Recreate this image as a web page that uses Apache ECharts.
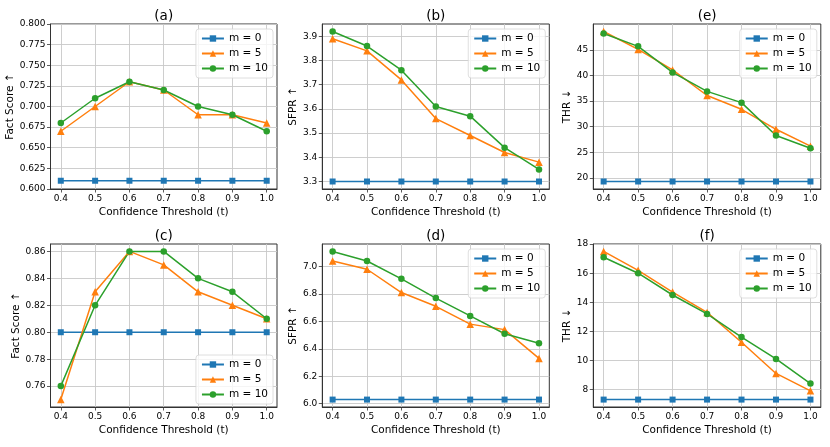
<!DOCTYPE html>
<html>
<head>
<meta charset="utf-8">
<script src="https://cdn.jsdelivr.net/npm/echarts@6.0.0/dist/echarts.min.js"></script>
<style>
  body { margin: 0; background: #fff; }
  #main { width: 830px; height: 447px; }
</style>
</head>
<body>
<div id="main"></div>
<script>
// x axis: confidence threshold
var thresholds = [0.4, 0.5, 0.6, 0.7, 0.8, 0.9, 1.0];
var seriesNames = ['m = 0', 'm = 5', 'm = 10'];

// (a) Fact Score
var aM0 = [0.61, 0.61, 0.61, 0.61, 0.61, 0.61, 0.61];
var aM5 = [0.67, 0.70, 0.73, 0.72, 0.69, 0.69, 0.68];
var aM10 = [0.68, 0.71, 0.73, 0.72, 0.70, 0.69, 0.67];
var aTicks = [0.600, 0.625, 0.650, 0.675, 0.700, 0.725, 0.750, 0.775, 0.800];

// (b) SFPR
var bM0 = [3.30, 3.30, 3.30, 3.30, 3.30, 3.30, 3.30];
var bM5 = [3.89, 3.84, 3.72, 3.56, 3.49, 3.42, 3.38];
var bM10 = [3.92, 3.86, 3.76, 3.61, 3.57, 3.44, 3.35];
var bTicks = [3.3, 3.4, 3.5, 3.6, 3.7, 3.8, 3.9];

// (e) THR
var eM0 = [19.3, 19.3, 19.3, 19.3, 19.3, 19.3, 19.3];
var eM5 = [48.6, 45.1, 41.1, 36.1, 33.4, 29.5, 26.2];
var eM10 = [48.2, 45.7, 40.6, 36.9, 34.7, 28.3, 25.8];
var eTicks = [20, 25, 30, 35, 40, 45];

// (c) Fact Score
var cM0 = [0.80, 0.80, 0.80, 0.80, 0.80, 0.80, 0.80];
var cM5 = [0.75, 0.83, 0.86, 0.85, 0.83, 0.82, 0.81];
var cM10 = [0.76, 0.82, 0.86, 0.86, 0.84, 0.83, 0.81];
var cTicks = [0.76, 0.78, 0.80, 0.82, 0.84, 0.86];

// (d) SFPR
var dM0 = [6.03, 6.03, 6.03, 6.03, 6.03, 6.03, 6.03];
var dM5 = [7.04, 6.98, 6.81, 6.71, 6.58, 6.54, 6.33];
var dM10 = [7.11, 7.04, 6.91, 6.77, 6.64, 6.51, 6.44];
var dTicks = [6.0, 6.2, 6.4, 6.6, 6.8, 7.0];

// (f) THR
var fM0 = [7.3, 7.3, 7.3, 7.3, 7.3, 7.3, 7.3];
var fM5 = [17.5, 16.2, 14.7, 13.3, 11.25, 9.1, 7.9];
var fM10 = [17.1, 16.0, 14.5, 13.2, 11.6, 10.1, 8.4];
var fTicks = [8, 10, 12, 14, 16, 18];

var colors = ['#1f77b4', '#ff7f0e', '#2ca02c'];
var symbols = ['rect', 'triangle', 'circle'];
var symbolSizes = [6, 7.5, 6.5];
var font = 'DejaVu Sans';

// matplotlib-style autoscale: 5% margin around the data
function padRange(arrs) {
  var all = [].concat.apply([], arrs);
  var lo = Math.min.apply(null, all), hi = Math.max.apply(null, all);
  var r = hi - lo;
  return [lo - 0.05 * r, hi + 0.05 * r];
}

var panels = [
  { title: '(a)', yName: 'Fact Score \u2191', data: [aM0, aM5, aM10], ticks: aTicks, dec: 3, range: [0.6, 0.8],
    left: 50.5, top: 24, width: 226.5, height: 165, gap: 33, legend: 'top' },
  { title: '(b)', yName: 'SFPR \u2191', data: [bM0, bM5, bM10], ticks: bTicks, dec: 1,
    left: 322.3, top: 24, width: 227, height: 165, gap: 24, legend: 'top' },
  { title: '(e)', yName: 'THR \u2193', data: [eM0, eM5, eM10], ticks: eTicks, dec: 0,
    left: 593.3, top: 24, width: 227.5, height: 165, gap: 20.5, legend: 'top' },
  { title: '(c)', yName: 'Fact Score \u2191', data: [cM0, cM5, cM10], ticks: cTicks, dec: 2,
    left: 50.5, top: 244, width: 226.5, height: 163, gap: 29, legend: 'bottom' },
  { title: '(d)', yName: 'SFPR \u2191', data: [dM0, dM5, dM10], ticks: dTicks, dec: 1,
    left: 322.3, top: 244, width: 227, height: 163, gap: 24, legend: 'top' },
  { title: '(f)', yName: 'THR \u2193', data: [fM0, fM5, fM10], ticks: fTicks, dec: 0,
    left: 593.3, top: 244, width: 227.5, height: 163, gap: 20.5, legend: 'top' }
];

var xRange = padRange([thresholds]);
var option = {
  animation: false,
  backgroundColor: '#fff',
  title: [], grid: [], xAxis: [], yAxis: [], legend: [], series: []
};

panels.forEach(function (p, k) {
  var yr = p.range || padRange(p.data);
  option.title.push({
    text: p.title, left: p.left + p.width / 2, top: p.top - 15, textAlign: 'center', padding: 0,
    textStyle: { fontFamily: font, fontSize: 13.5, fontWeight: 'normal', color: '#000' }
  });
  option.grid.push({
    left: p.left, top: p.top, width: p.width, height: p.height,
    show: true, borderColor: '#333', borderWidth: 1, backgroundColor: 'transparent'
  });
  option.xAxis.push({
    type: 'value', gridIndex: k, min: xRange[0], max: xRange[1],
    name: 'Confidence Threshold (t)', nameLocation: 'middle', nameGap: 17.5,
    nameTextStyle: { fontFamily: font, fontSize: 10.5, color: '#000' },
    axisLine: { show: true, onZero: false, lineStyle: { color: '#333', width: 1 } },
    axisTick: { show: true, length: 3.5, customValues: thresholds, lineStyle: { color: '#333', width: 0.8 } },
    axisLabel: { customValues: thresholds, margin: 5.5, fontFamily: font, fontSize: 9, color: '#000',
      formatter: function (v) { return v.toFixed(1); } },
    splitLine: { show: true, lineStyle: { color: '#c8c8c8', width: 0.9 } }
  });
  option.yAxis.push({
    type: 'value', gridIndex: k, min: yr[0], max: yr[1],
    name: p.yName, nameLocation: 'middle', nameGap: p.gap,
    nameTextStyle: { fontFamily: font, fontSize: 10.5, color: '#000' },
    axisLine: { show: true, lineStyle: { color: '#333', width: 1 } },
    axisTick: { show: true, length: 3.5, customValues: p.ticks, lineStyle: { color: '#333', width: 0.8 } },
    axisLabel: { customValues: p.ticks, margin: 5, fontFamily: font, fontSize: 9, color: '#000',
      formatter: function (v) { return v.toFixed(p.dec); } },
    splitLine: { show: true, lineStyle: { color: '#c8c8c8', width: 0.9 } }
  });
  var lg = {
    data: seriesNames, orient: 'vertical', selectedMode: false,
    right: 830 - (p.left + p.width) + 4,
    itemWidth: 22, itemHeight: 8, itemGap: 4, padding: [4, 5],
    backgroundColor: 'rgba(255,255,255,0.8)', borderColor: '#d6d6d6', borderWidth: 0.8, borderRadius: 3,
    textStyle: { fontFamily: font, fontSize: 10.5, color: '#000' }
  };
  if (p.legend === 'top') lg.top = p.top + 5;
  else lg.bottom = 447 - (p.top + p.height) + 3;
  option.legend.push(lg);

  p.data.forEach(function (vals, j) {
    option.series.push({
      name: seriesNames[j], type: 'line', xAxisIndex: k, yAxisIndex: k,
      data: thresholds.map(function (x, i) { return [x, vals[i]]; }),
      symbol: symbols[j], symbolSize: symbolSizes[j], showAllSymbol: true,
      lineStyle: { color: colors[j], width: 1.5 },
      itemStyle: { color: colors[j] }
    });
  });
});

var myChart = echarts.init(document.getElementById('main'));
myChart.setOption(option);
</script>
</body>
</html>
